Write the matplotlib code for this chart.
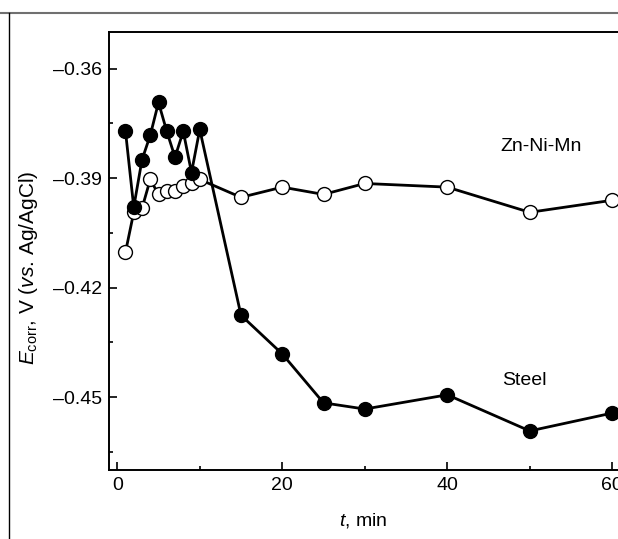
import matplotlib.pyplot as plt
from matplotlib.lines import Line2D
from matplotlib.ticker import MultipleLocator

plt.rcParams['font.family'] = ['Liberation Sans', 'DejaVu Sans']
plt.rcParams['mathtext.fontset'] = 'custom'
plt.rcParams['mathtext.it'] = 'Liberation Sans:italic'
plt.rcParams['mathtext.rm'] = 'Liberation Sans'

# time, min
t_steel = [1, 2, 3, 4, 5, 6, 7, 8, 9, 10, 15, 20, 25, 30, 40, 50, 60]
e_steel = [-0.3772, -0.398, -0.385, -0.3783, -0.3693, -0.3772, -0.3843, -0.3772,
           -0.3885, -0.3767, -0.4276, -0.4382, -0.4516, -0.4533, -0.4494, -0.4593, -0.4544]

t_znnimn = [1, 2, 3, 4, 5, 6, 7, 8, 9, 10, 15, 20, 25, 30, 40, 50, 60]
e_znnimn = [-0.4103, -0.3994, -0.3983, -0.3904, -0.3945, -0.3936, -0.3936, -0.3923,
            -0.3913, -0.3904, -0.3953, -0.3925, -0.3945, -0.3915, -0.3925, -0.3994, -0.3961]

fig = plt.figure(figsize=(6.18, 5.39), dpi=100)
ax = fig.add_axes([109 / 618, 69 / 539, 519.75 / 618, 438 / 539])

ax.plot(t_znnimn, e_znnimn, color='black', lw=2.0, marker='o', ms=10,
        mfc='white', mec='black', mew=1.0, zorder=2)
ax.plot(t_steel, e_steel, color='black', lw=2.0, marker='o', ms=10,
        mfc='black', mec='black', zorder=3)

ax.set_xlim(-1, 62)
ax.set_ylim(-0.47, -0.35)
ax.xaxis.set_major_locator(MultipleLocator(20))
ax.xaxis.set_minor_locator(MultipleLocator(10))
ax.yaxis.set_major_locator(MultipleLocator(0.03))
ax.yaxis.set_minor_locator(MultipleLocator(0.015))
ax.yaxis.set_major_formatter(plt.FuncFormatter(lambda v, p: f"{v:.2f}".replace('-', '\u2013')))
ax.tick_params(which='both', direction='in', labelsize=14, width=1.2)
ax.tick_params(which='major', length=6, pad=5)
ax.tick_params(which='minor', length=3)
for s in ax.spines.values():
    s.set_linewidth(1.4)

ax.text(51.4, -0.3813, 'Zn-Ni-Mn', fontsize=14, ha='center', va='center')
ax.text(49.3, -0.4455, 'Steel', fontsize=14, ha='center', va='center')

ax.set_xlabel('$t$, min', fontsize=14)
ax.xaxis.set_label_coords((363 - 109) / 519.75, -(511 - 470) / 438)
ax.set_ylabel('$E_{\\rm corr}$, V ($vs$. Ag/AgCl)', fontsize=15)
ax.yaxis.set_label_coords(-(109 - 40) / 519.75, (470 - 268) / 438)

# outer frame of the original figure panel
fig.add_artist(Line2D([0, 1], [1 - 13 / 539, 1 - 13 / 539], color='#707070', lw=1.5))
fig.add_artist(Line2D([9 / 618, 9 / 618], [0, 1 - 13 / 539], color='black', lw=1.0))

fig.savefig('out.png', dpi=100)
